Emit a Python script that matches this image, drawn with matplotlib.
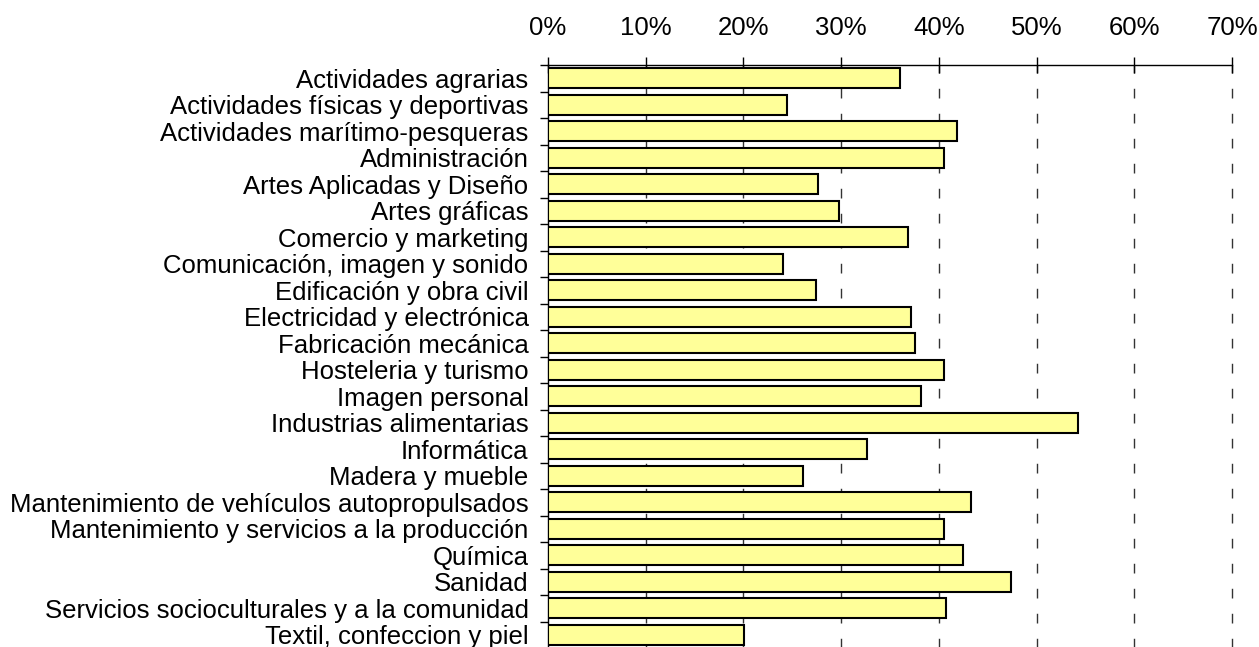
import matplotlib
matplotlib.use("Agg")
import matplotlib.pyplot as plt
import numpy as np
from matplotlib.ticker import FixedLocator, PercentFormatter

categories = [
    "Actividades agrarias",
    "Actividades físicas y deportivas",
    "Actividades marítimo-pesqueras",
    "Administración",
    "Artes Aplicadas y Diseño",
    "Artes gráficas",
    "Comercio y marketing",
    "Comunicación, imagen y sonido",
    "Edificación y obra civil",
    "Electricidad y electrónica",
    "Fabricación mecánica",
    "Hosteleria y turismo",
    "Imagen personal",
    "Industrias alimentarias",
    "Informática",
    "Madera y mueble",
    "Mantenimiento de vehículos autopropulsados",
    "Mantenimiento y servicios a la producción",
    "Química",
    "Sanidad",
    "Servicios socioculturales y a la comunidad",
    "Textil, confeccion y piel",
]
values = [36.0, 24.5, 41.9, 40.5, 27.6, 29.8, 36.8, 24.1, 27.4, 37.2, 37.6,
          40.5, 38.2, 54.2, 32.6, 26.1, 43.3, 40.5, 42.5, 47.4, 40.7, 20.1]
x_ticks = [0, 10, 20, 30, 40, 50, 60, 70]

plt.rcParams['font.family'] = ['Liberation Sans', 'DejaVu Sans']

fig = plt.figure(figsize=(12.59, 6.47), dpi=100)
ax = fig.add_axes([548/1259, 1 - 648/647, (1232-548)/1259, 583/647])

n = len(categories)
y = np.arange(n)
ax.barh(y, values, height=0.75, color="#FFFF99", edgecolor="black", linewidth=1.5, zorder=3)

ax.set_xlim(0, 70)
ax.set_ylim(n - 0.5, -0.5)

ax.xaxis.set_major_locator(FixedLocator(x_ticks))
ax.xaxis.set_major_formatter(PercentFormatter(decimals=0))
ax.xaxis.tick_top()
ax.tick_params(axis='x', direction='inout', length=12, width=1, labelsize=18.5, pad=12)

ax.set_yticks(y)
ax.set_yticklabels(categories)
ax.set_yticks(np.arange(-0.5, n, 1.0), minor=True)
ax.tick_params(axis='y', which='major', length=0, labelsize=18.5, pad=14)
ax.tick_params(axis='y', which='minor', direction='out', length=6, width=1)

for xv in x_ticks[1:]:
    ax.axvline(xv, color="#333333", linewidth=1, linestyle=(0, (7, 11)),
               zorder=1, clip_on=False)

for s in ['right', 'bottom']:
    ax.spines[s].set_visible(False)
ax.spines['top'].set_linewidth(1)
ax.spines['left'].set_linewidth(1)

fig.savefig("out.png", dpi=100)
